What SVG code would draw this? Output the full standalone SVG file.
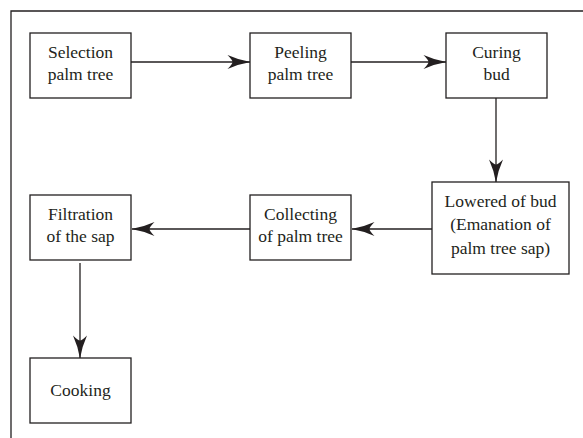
<svg xmlns="http://www.w3.org/2000/svg" width="583" height="438" viewBox="0 0 583 438">
<style>
.box{fill:#fff;stroke:#231f20;stroke-width:1.3}
.t{font-family:'Liberation Serif','DejaVu Serif',serif;font-size:17.5px;fill:#231f20;text-anchor:middle}
.c{stroke:#231f20;stroke-width:1.3;fill:none;marker-end:url(#ah)}
</style>
<defs>
<marker id="ah" markerUnits="userSpaceOnUse" markerWidth="24" markerHeight="14" viewBox="0 0 23 14" refX="22.5" refY="7" orient="auto">
<path d="M0,0 Q11,5 23,7 Q11,9 0,14 Q5,9 5,7 Q5,5 0,0 Z" fill="#231f20"/>
</marker>
</defs>
<rect width="583" height="438" fill="#fff"/>
<path d="M11,438 V11 H583" fill="none" stroke="#231f20" stroke-width="1.3"/>
<g id="connectors">
<line class="c" x1="131" y1="62" x2="250" y2="62"/>
<line class="c" x1="351" y1="62" x2="446" y2="62"/>
<line class="c" x1="496" y1="98" x2="496" y2="182"/>
<line class="c" x1="432" y1="229" x2="352" y2="229"/>
<line class="c" x1="250" y1="229" x2="132" y2="229"/>
<line class="c" x1="80" y1="263" x2="80" y2="358"/>
</g>
<g id="selection"><rect class="box" x="30" y="33" width="101" height="65"/><text class="t" x="80.5" y="58" font-family="Liberation Serif">Selection</text><text class="t" x="80.5" y="80">palm tree</text></g>
<g id="peeling"><rect class="box" x="250" y="33" width="101" height="65"/><text class="t" x="300.5" y="58">Peeling</text><text class="t" x="300.5" y="80">palm tree</text></g>
<g id="curing"><rect class="box" x="446" y="33" width="101" height="65"/><text class="t" x="496.5" y="58">Curing</text><text class="t" x="496.5" y="80">bud</text></g>
<g id="lowered"><rect class="box" x="432" y="182" width="137" height="92"/><text class="t" x="500.5" y="207">Lowered of bud</text><text class="t" x="500.5" y="230">(Emanation of</text><text class="t" x="500.5" y="254">palm tree sap)</text></g>
<g id="collecting"><rect class="box" x="250" y="195" width="101" height="65"/><text class="t" x="300.5" y="220">Collecting</text><text class="t" x="300.5" y="242">of palm tree</text></g>
<g id="filtration"><rect class="box" x="30" y="195" width="101" height="65"/><text class="t" x="80.5" y="220">Filtration</text><text class="t" x="80.5" y="242">of the sap</text></g>
<g id="cooking"><rect class="box" x="30" y="358" width="101" height="65"/><text class="t" x="80.5" y="396">Cooking</text></g>
</svg>
